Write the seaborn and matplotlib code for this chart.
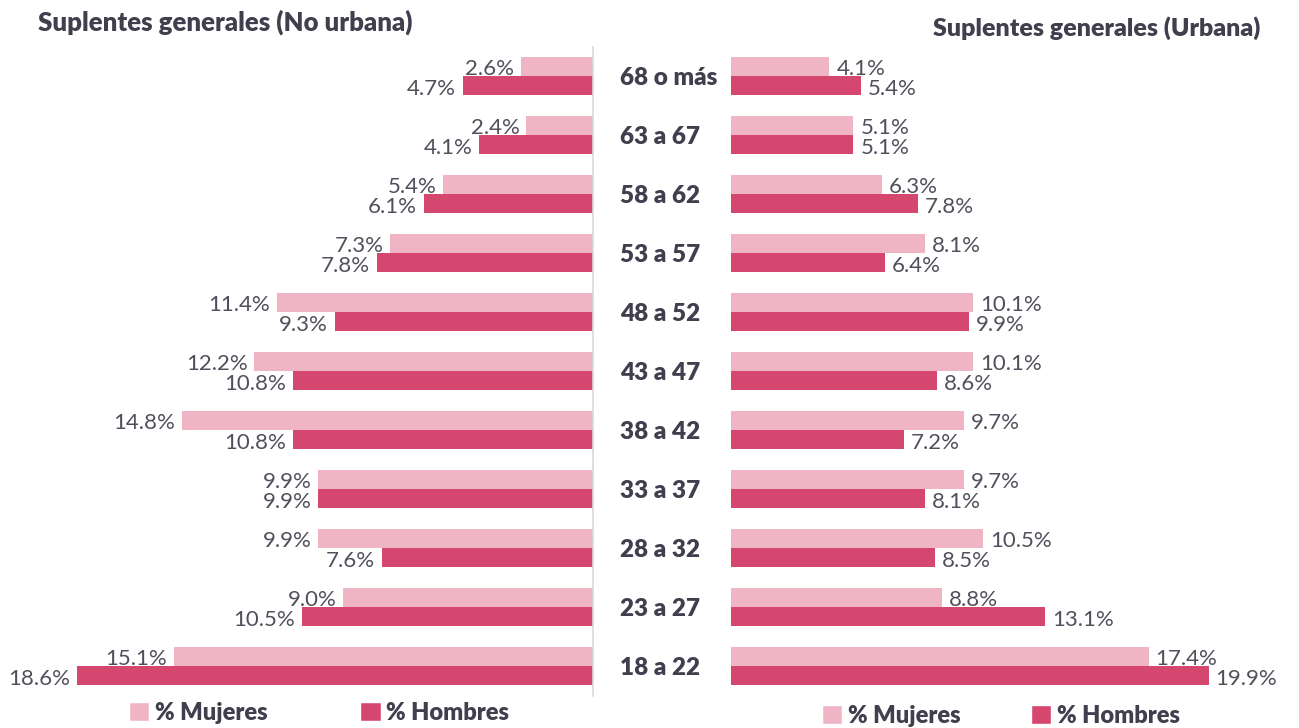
import matplotlib
matplotlib.use("Agg")
import matplotlib.pyplot as plt
import seaborn as sns
import pandas as pd
from matplotlib.patches import Patch

# data, top to bottom
edades = ['68 o más', '63 a 67', '58 a 62', '53 a 57', '48 a 52', '43 a 47',
          '38 a 42', '33 a 37', '28 a 32', '23 a 27', '18 a 22']
nourb_mujeres = [2.6, 2.4, 5.4, 7.3, 11.4, 12.2, 14.8, 9.9, 9.9, 9.0, 15.1]
nourb_hombres = [4.7, 4.1, 6.1, 7.8, 9.3, 10.8, 10.8, 9.9, 7.6, 10.5, 18.6]
urb_mujeres = [4.1, 5.1, 6.3, 8.1, 10.1, 10.1, 9.7, 9.7, 10.5, 8.8, 17.4]
urb_hombres = [5.4, 5.1, 7.8, 6.4, 9.9, 8.6, 7.2, 8.1, 8.5, 13.1, 19.9]
series = ['% Mujeres', '% Hombres']

c_muj = '#EFB5C5'
c_hom = '#D64770'
txt = '#3F3F4E'
lbl = '#50505C'

def long_df(muj, hom):
    d = pd.DataFrame({'edad': edades, '% Mujeres': muj, '% Hombres': hom})
    return d.melt(id_vars='edad', var_name='serie', value_name='pct')

sns.set_style('white')
plt.rcParams['font.family'] = ['Lato', 'DejaVu Sans']

fig = plt.figure(figsize=(12.99, 7.28), dpi=100)
W, H = 1299, 728
bottom = 1 - 695.5 / H
height = 649 / H
ax1 = fig.add_axes([0, bottom, 593 / W, height])
ax2 = fig.add_axes([731 / W, bottom, 568 / W, height])

for ax, (muj, hom), side in [(ax1, (nourb_mujeres, nourb_hombres), -1),
                             (ax2, (urb_mujeres, urb_hombres), 1)]:
    sns.barplot(data=long_df(muj, hom), y='edad', x='pct', hue='serie',
                hue_order=series, palette=[c_muj, c_hom], orient='h',
                width=0.66, linewidth=0, saturation=1, ax=ax, legend=False)
    # value labels just past the end of each bar
    for cont in ax.containers:
        for bar, v in zip(cont, cont.datavalues):
            yc = bar.get_y() + bar.get_height() / 2
            ax.annotate(f'{v:.1f}%', (v, yc), xytext=(5 * side, -2),
                        textcoords='offset points', va='center',
                        ha='left' if side > 0 else 'right',
                        fontsize=16, color=lbl)
    ax.set_xlabel('')
    ax.set_ylabel('')
    ax.set_xticks([])
    for s in ['top', 'bottom', 'left', 'right']:
        ax.spines[s].set_visible(False)
    ax.set_ylim(10.5, -0.5)

ax1.set_xlim(593 / 27.75, 0)
ax1.set_yticks([])
ax1.spines['right'].set_visible(True)
ax1.spines['right'].set_color('#D9D9D9')
ax1.spines['right'].set_linewidth(1.2)

ax2.set_xlim(0, 568 / 24.0)
ax2.tick_params(axis='y', length=0, pad=80)
for t in ax2.get_yticklabels():
    t.set_ha('left')
    t.set_fontsize(17.5)
    t.set_fontweight('heavy')
    t.set_color(txt)

fig.text(38 / W, 1 - 22 / H, 'Suplentes generales (No urbana)', fontsize=18.5,
         fontweight='heavy', color=txt, va='center', ha='left')
fig.text(1260 / W, 1 - 28 / H, 'Suplentes generales (Urbana)', fontsize=18,
         fontweight='heavy', color=txt, va='center', ha='right')

handles = [Patch(facecolor=c_muj), Patch(facecolor=c_hom)]
for cx, cy, sp in [(319 / W, 1 - 713 / H, 3.95), (1001 / W, 1 - 716 / H, 2.95)]:
    leg = fig.legend(handles, series, loc='center', bbox_to_anchor=(cx, cy),
                     ncol=2, frameon=False, handlelength=0.85, handleheight=0.85,
                     handletextpad=0.25, columnspacing=sp,
                     prop={'size': 17, 'weight': 'heavy'})
    for t in leg.get_texts():
        t.set_color(txt)

fig.savefig('out.png', dpi=100)
